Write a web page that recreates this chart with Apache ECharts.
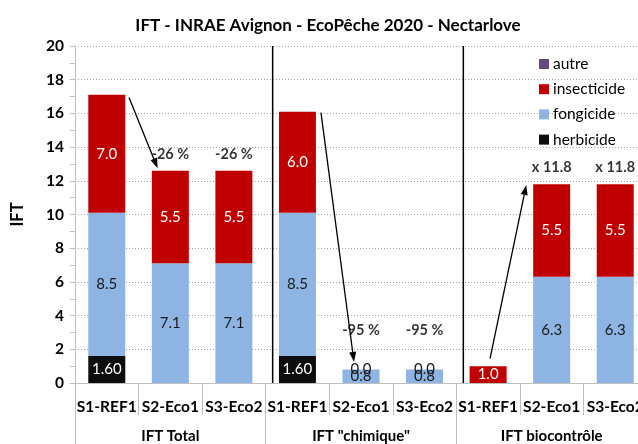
<!DOCTYPE html>
<html><head><meta charset="utf-8">
<script src="https://cdn.jsdelivr.net/npm/echarts@6/dist/echarts.min.js"></script>
<style>html,body{margin:0;padding:0;background:#fff}#c{width:638px;height:444px}</style>
</head><body><div id="c"></div>
<script>
const categories = ['S1-REF1','S2-Eco1','S3-Eco2','S1-REF1','S2-Eco1','S3-Eco2','S1-REF1','S2-Eco1','S3-Eco2'];
const groups = ['IFT Total','IFT "chimique"','IFT biocontrôle'];
const herbicide   = [1.60, null, null, 1.60, null, null, null, null, null];
const fongicide   = [8.5, 7.1, 7.1, 8.5, 0.8, 0.8, null, 6.3, 6.3];
const insecticide = [7.0, 5.5, 5.5, 6.0, 0.0, 0.0, 1.0, 5.5, 5.5];
const autre       = [null, null, null, null, null, null, null, null, null];
const annotationText  = ['', '-26 %', '-26 %', '', '-95 %', '-95 %', '', 'x 11.8', 'x 11.8'];
const annotationLevel = [null, 13.6, 13.6, null, 3.15, 3.15, null, 12.8, 12.8];
// arrows: [category, value, offset in category widths]
const arrowFrom = [[0, 16.95, 0.35], [3, 16.05, 0.37], [6, 1.45, 0.03]];
const arrowTo   = [[1, 12.75, -0.2], [4, 1.25, -0.11], [7, 11.75, -0.4]];
const separatorsAfter = [2, 5];

const FONT = 'Lato';
const colors = {autre:'#604a7b', insecticide:'#c00000', fongicide:'#8db4e2', herbicide:'#0d0d0d'};

function mkData(arr, name) {
  return arr.map(v => {
    if (v === null) return null;
    const o = {value: v};
    if (name === 'insecticide' && v === 0) o.label = {color: '#1a1a1a'};
    return o;
  });
}
function barSeries(name, arr, labelColor, digits) {
  return {
    name, type: 'bar', stack: 'ift', barWidth: 37,
    data: mkData(arr, name),
    itemStyle: {color: colors[name]},
    label: {show: true, position: 'inside', color: labelColor, fontFamily: FONT, fontSize: 15,
      formatter: p => (p.value === null || p.value === undefined) ? '' : Number(p.value).toFixed(digits)},
    emphasis: {disabled: true}, silent: true
  };
}

const chart = echarts.init(document.getElementById('c'), null, {renderer: 'canvas'});
const option = {
  animation: false,
  textStyle: {fontFamily: FONT},
  title: {text: 'IFT - INRAE Avignon - EcoPêche 2020 - Nectarlove', left: 323, textAlign: 'center', top: 12,
    textStyle: {fontFamily: FONT, fontSize: 17, fontWeight: 'bold', color: '#000'}},
  legend: {
    data: ['autre', 'insecticide', 'fongicide', 'herbicide'],
    orient: 'vertical', left: 534, top: 51, itemWidth: 10, itemHeight: 10, itemGap: 9.2,
    icon: 'rect', selectedMode: false,
    textStyle: {fontFamily: FONT, fontSize: 15.5, color: '#000', padding: [0,0,0,-1]}
  },
  grid: {left: 75, width: 572, top: 46, height: 337, containLabel: false, outerBoundsMode: 'none'},
  xAxis: [{
    type: 'category', data: categories, position: 'bottom',
    axisLine: {show: true, lineStyle: {color: '#bfbfbf', width: 1}},
    axisTick: {show: true, interval: 0, length: 32, lineStyle: {color: '#bfbfbf'}},
    axisLabel: {interval: 0, margin: 16, fontFamily: FONT, fontSize: 15.5, fontWeight: 'bold', color: '#000'}
  }, {
    type: 'category', data: groups, position: 'bottom',
    axisLine: {show: false},
    axisTick: {show: true, interval: 0, length: 61, lineStyle: {color: '#bfbfbf'}},
    axisLabel: {interval: 0, margin: 46, fontFamily: FONT, fontSize: 15, fontWeight: 'bold', color: '#000'}
  }],
  yAxis: {
    type: 'value', min: 0, max: 20, interval: 2,
    name: 'IFT', nameLocation: 'middle', nameRotate: 90, nameGap: 49,
    nameTextStyle: {fontFamily: FONT, fontSize: 16.5, fontWeight: 'bold', color: '#000'},
    axisLine: {show: true, lineStyle: {color: '#bfbfbf'}},
    axisTick: {show: true, length: 5, lineStyle: {color: '#bfbfbf'}},
    minorTick: {show: true, splitNumber: 2, length: 5, lineStyle: {color: '#bfbfbf'}},
    splitLine: {show: true, lineStyle: {color: '#a0a0a0', type: [1, 2]}},
    axisLabel: {margin: 11, fontFamily: FONT, fontSize: 15.5, fontWeight: 'bold', color: '#000'}
  },
  series: [
    barSeries('herbicide', herbicide, '#fff', 2),
    barSeries('fongicide', fongicide, '#1a1a1a', 1),
    barSeries('insecticide', insecticide, '#fff', 1),
    barSeries('autre', autre, '#fff', 1),
    {
      name: 'annot', type: 'scatter', symbolSize: 0, silent: true,
      data: annotationLevel,
      label: {show: true, position: 'inside', fontFamily: FONT, fontSize: 14.5, fontWeight: 'bold', color: '#000',
        formatter: p => annotationText[p.dataIndex]}
    }
  ]
};
chart.setOption(option);

function px(ci, v, off) {
  const p0 = chart.convertToPixel({xAxisIndex: 0, yAxisIndex: 0}, [0, 0]);
  const p1 = chart.convertToPixel({xAxisIndex: 0, yAxisIndex: 0}, [1, 0]);
  const w = p1[0] - p0[0];
  const p = chart.convertToPixel({xAxisIndex: 0, yAxisIndex: 0}, [ci, v]);
  return [p[0] + (off || 0) * w, p[1], w];
}
const graphics = [];
separatorsAfter.forEach(ci => {
  const top = px(ci, 20, 0.5 + 0.11);
  const bot = px(ci, 0, 0.5 + 0.11);
  graphics.push({type: 'line', shape: {x1: top[0], y1: top[1], x2: bot[0], y2: bot[1]},
    style: {stroke: '#000', lineWidth: 1.5}, z: 10, silent: true});
});
arrowFrom.forEach((f, i) => {
  const t = arrowTo[i];
  const a = px(f[0], f[1], f[2]);
  const b = px(t[0], t[1], t[2]);
  const dx = b[0] - a[0], dy = b[1] - a[1];
  const L = Math.hypot(dx, dy), ux = dx / L, uy = dy / L;
  const hl = 10, hw = 3.5;
  const bx = b[0] - ux * hl, by = b[1] - uy * hl;
  graphics.push({type: 'line', shape: {x1: a[0], y1: a[1], x2: bx, y2: by},
    style: {stroke: '#000', lineWidth: 1.3}, z: 10, silent: true});
  graphics.push({type: 'polygon', shape: {points: [[b[0], b[1]], [bx - uy * hw, by + ux * hw], [bx + uy * hw, by - ux * hw]]},
    style: {fill: '#000'}, z: 10, silent: true});
});
chart.setOption({graphic: graphics});
</script>
</body></html>
